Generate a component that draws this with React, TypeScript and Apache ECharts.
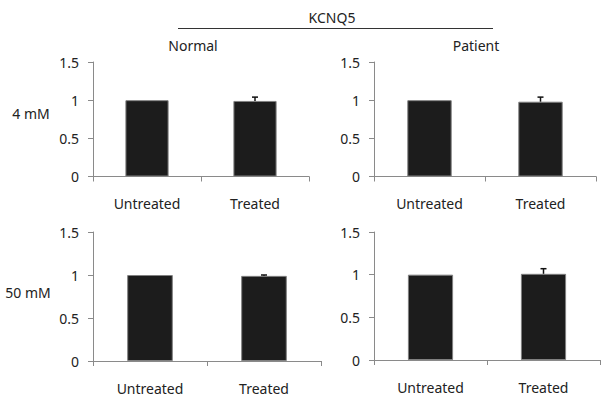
import React, { useEffect, useRef } from "react";
import * as echarts from "echarts";

const categories = ["Untreated", "Treated"];
const yTicks = [0, 0.5, 1, 1.5];

const normal4 = [1, 0.99];
const normal4Err = [0, 0.05];
const patient4 = [1, 0.98];
const patient4Err = [0, 0.06];
const normal50 = [1, 0.99];
const normal50Err = [0, 0.01];
const patient50 = [1, 1.01];
const patient50Err = [0, 0.06];

const panels = [
  { values: normal4, errs: normal4Err, grid: { left: 93, top: 62, width: 216, height: 114.5 } },
  { values: patient4, errs: patient4Err, grid: { left: 374, top: 62, width: 222, height: 114.5 } },
  { values: normal50, errs: normal50Err, grid: { left: 93, top: 232, width: 228, height: 129 } },
  { values: patient50, errs: patient50Err, grid: { left: 374, top: 232, width: 226, height: 128 } },
];

const FONT = "'Noto Sans', 'Open Sans', sans-serif";
const TEXT = "#222";
const AXIS = "#8a8a8a";

export default function App() {
  const ref = useRef<HTMLDivElement>(null);
  useEffect(() => {
    document.body.style.margin = "0";
    const chart = echarts.init(ref.current!, null, { renderer: "svg" });
    const grids = panels.map((p) => ({ ...p.grid, containLabel: false }));
    const xAxis = panels.map((_, i) => ({
      type: "category",
      gridIndex: i,
      data: categories,
      boundaryGap: true,
      axisLine: { lineStyle: { color: AXIS, width: 1 } },
      axisTick: { show: true, length: 5, lineStyle: { color: AXIS } },
      axisLabel: { color: TEXT, fontSize: 14, fontFamily: FONT, margin: 20 },
    }));
    const yAxis = panels.map((_, i) => ({
      type: "value",
      gridIndex: i,
      min: yTicks[0],
      max: yTicks[yTicks.length - 1],
      interval: 0.5,
      splitLine: { show: false },
      axisLine: { show: true, lineStyle: { color: AXIS, width: 1 } },
      axisTick: { show: true, length: 5, lineStyle: { color: AXIS } },
      axisLabel: { color: TEXT, fontSize: 14, fontFamily: FONT, margin: 14 },
    }));
    const series: any[] = [];
    panels.forEach((p, i) => {
      series.push({
        type: "bar",
        xAxisIndex: i,
        yAxisIndex: i,
        data: p.values,
        barWidth: "40%",
        itemStyle: { color: "#1c1c1c", borderColor: "#808080", borderWidth: 1 },
      });
      series.push({
        type: "custom",
        xAxisIndex: i,
        yAxisIndex: i,
        z: 5,
        encode: { x: 0, y: 1 },
        data: p.values.map((v, k) => [k, v, p.errs[k]]),
        renderItem: (params: any, api: any) => {
          const idx = api.value(0);
          const v = api.value(1);
          const e = api.value(2);
          if (!e) return null;
          const base = api.coord([idx, v]);
          const top = api.coord([idx, v + e]);
          const hw = 3;
          return {
            type: "group",
            children: [
              { type: "line", shape: { x1: base[0], y1: base[1], x2: base[0], y2: top[1] }, style: { stroke: "#111", lineWidth: 1.5 } },
              { type: "line", shape: { x1: base[0] - hw, y1: top[1], x2: base[0] + hw, y2: top[1] }, style: { stroke: "#111", lineWidth: 1.5 } },
            ],
          };
        },
      });
    });
    const txt = (text: string, x: number, y: number) => ({
      type: "text",
      x,
      y,
      style: { text, fill: TEXT, font: `14px ${FONT}`, align: "center", verticalAlign: "middle" },
    });
    chart.setOption({
      animation: false,
      grid: grids,
      xAxis,
      yAxis,
      series,
      graphic: [
        txt("KCNQ5", 332, 17),
        { type: "line", shape: { x1: 178, y1: 28.5, x2: 493, y2: 28.5 }, style: { stroke: "#333", lineWidth: 1 } },
        txt("Normal", 193, 45),
        txt("Patient", 476, 45),
        txt("4 mM", 31, 113),
        txt("50 mM", 28, 292),
      ],
    });
    return () => chart.dispose();
  }, []);
  return <div ref={ref} style={{ position: "fixed", left: 0, top: 0, width: 602, height: 398, background: "#fff" }} />;
}
